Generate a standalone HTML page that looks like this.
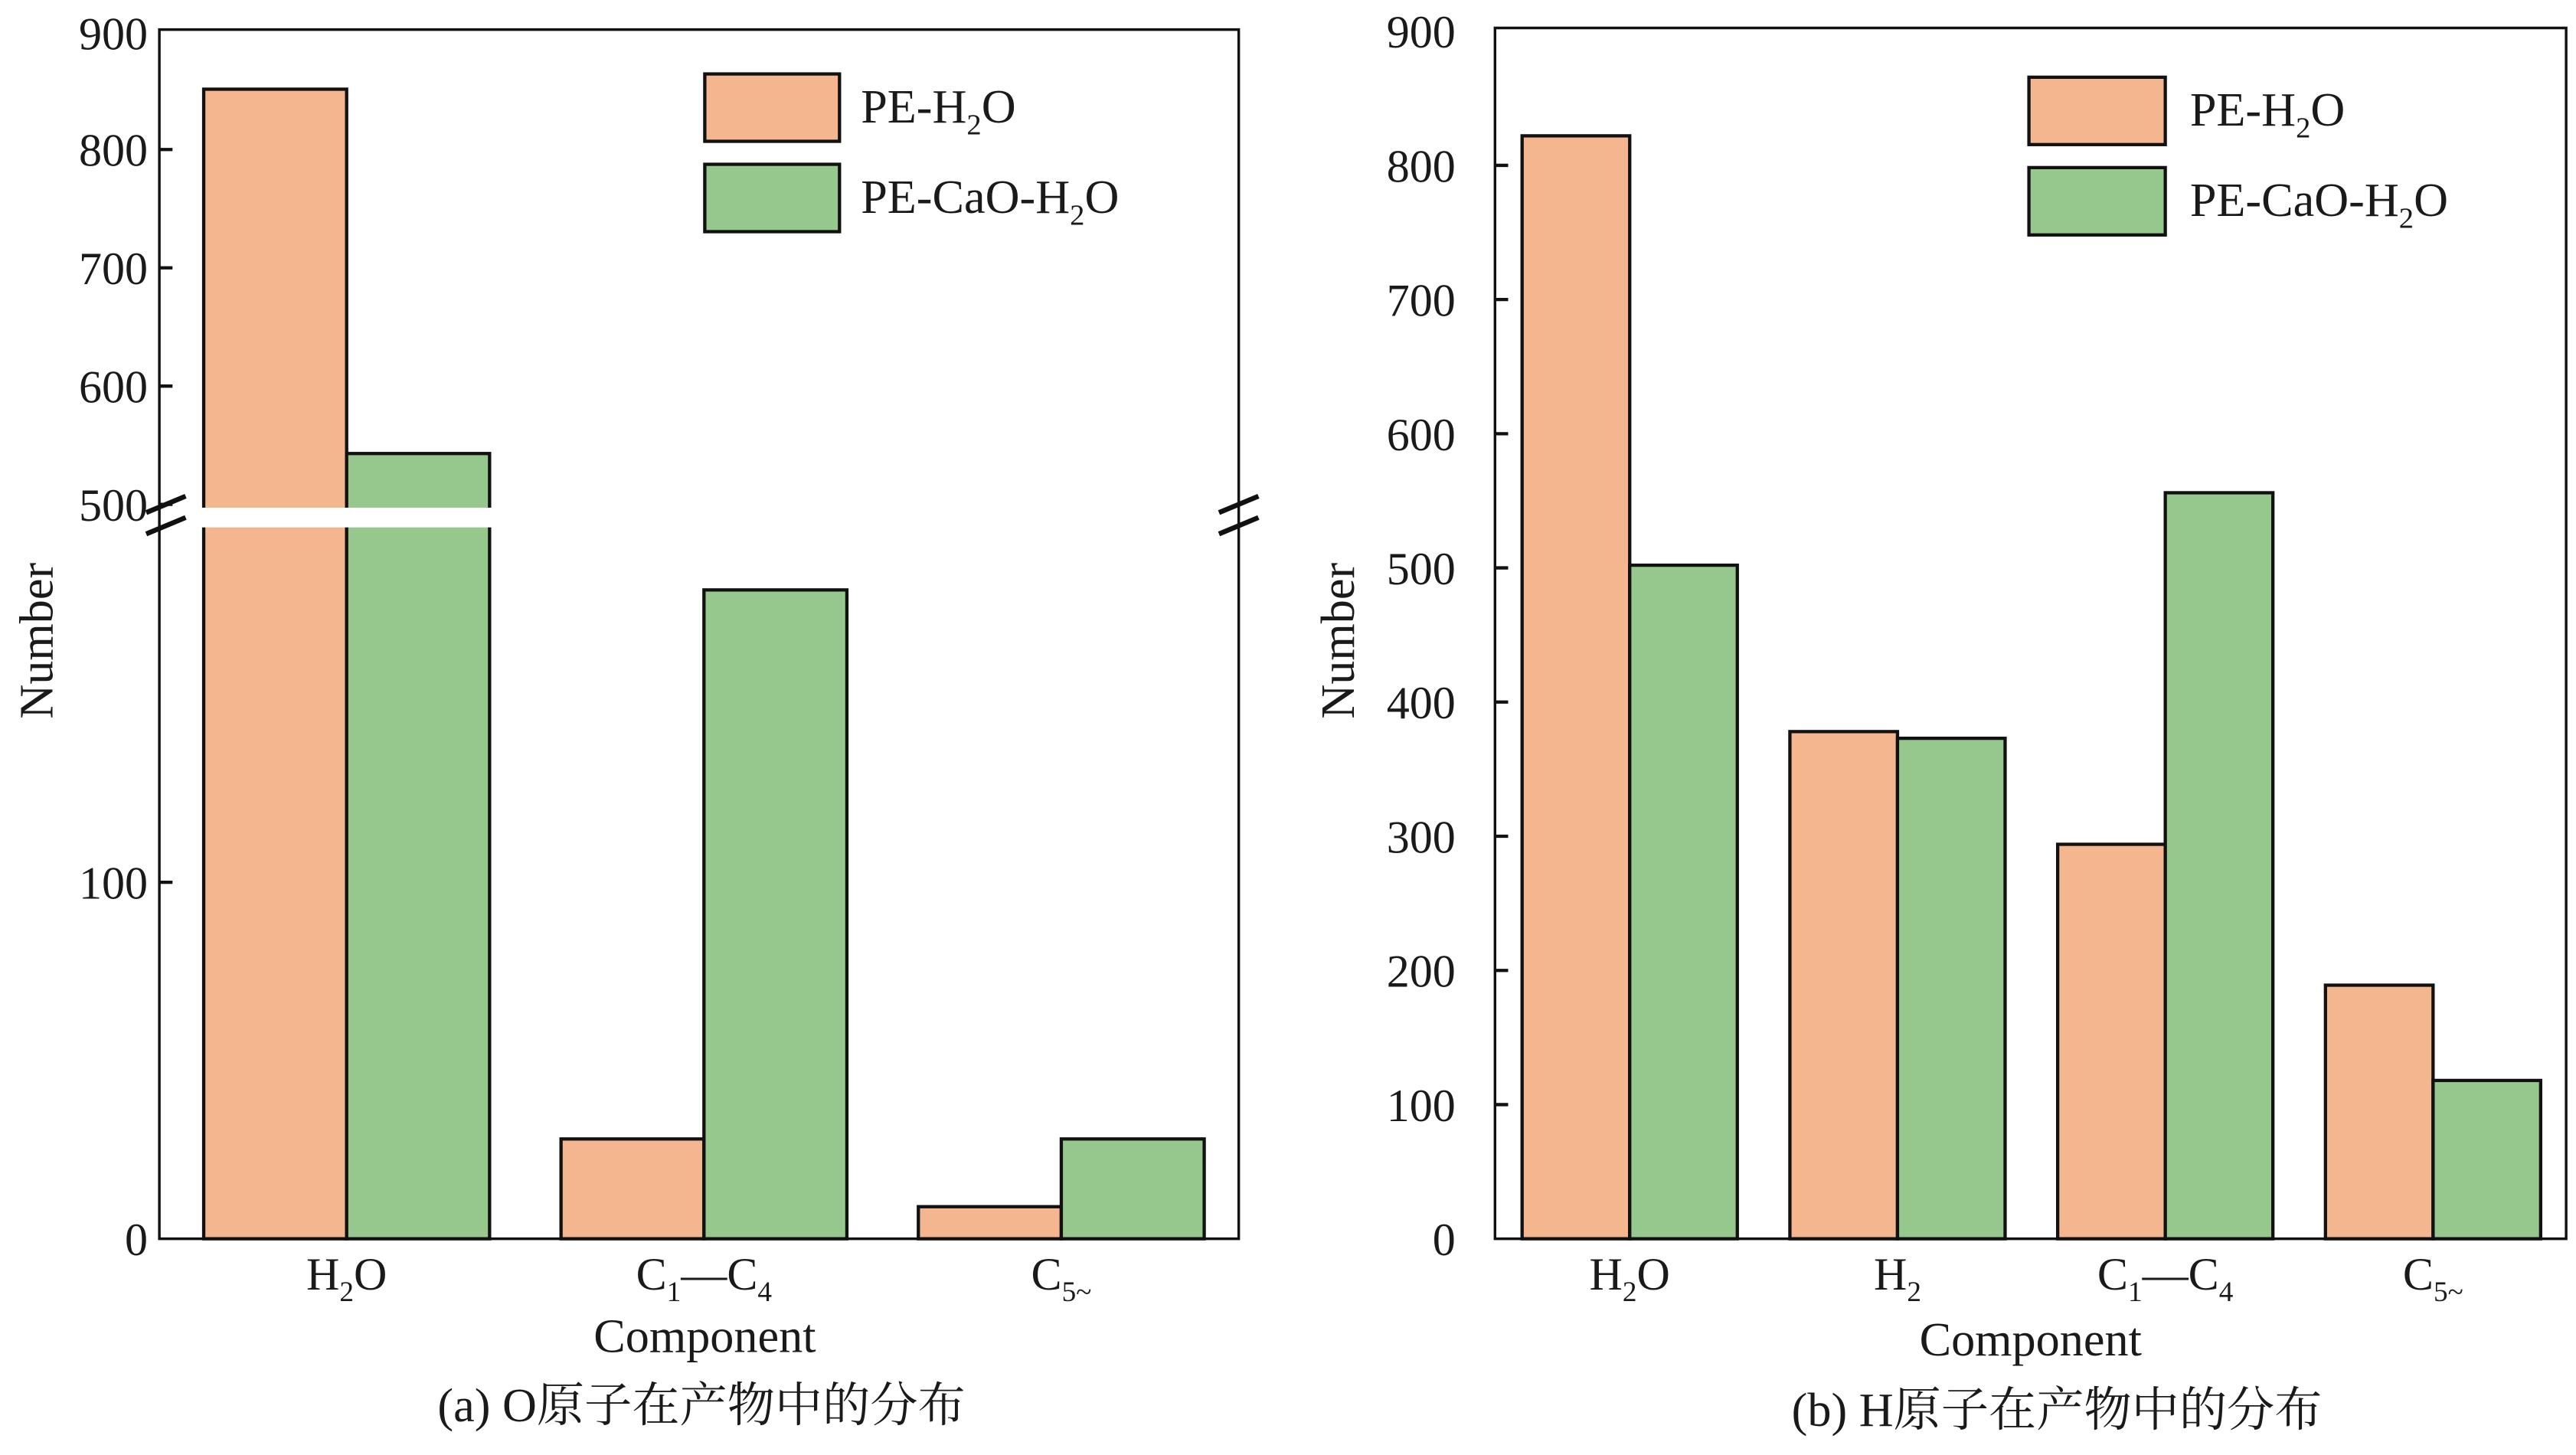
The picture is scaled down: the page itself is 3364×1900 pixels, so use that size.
<!DOCTYPE html>
<html><head><meta charset="utf-8"><style>
html,body{margin:0;padding:0;background:#fff;}
svg{display:block;}
text{font-family:"Liberation Serif","Noto Serif CJK SC",serif;fill:#1a1a1a;}
</style></head><body>
<svg id="fig" width="3364" height="1900" viewBox="0 0 1568 885.6" xmlns="http://www.w3.org/2000/svg">
<g id="left"></g>
<g id="right"></g>
</svg>
<script>
const leftCats = ["H2O", "C1-C4", "C5~"];
const leftPE = [851, 28, 9];
const leftCaO = [543, 182, 28];
const leftTicksUpper = [500, 600, 700, 800, 900];
const leftTicksLower = [0, 100];
const rightCats = ["H2O", "H2", "C1-C4", "C5~"];
const rightPE = [822, 378, 294, 189];
const rightCaO = [502, 373, 556, 118];
const rightTicks = [0, 100, 200, 300, 400, 500, 600, 700, 800, 900];

const NS = "http://www.w3.org/2000/svg";
const ORANGE = "#f4b68f", GREEN = "#96c78c";
const TICK = 28, LBL = 29;
function mk(parent, tag, attrs, text) {
  const e = document.createElementNS(NS, tag);
  for (const k in attrs) e.setAttribute(k, attrs[k]);
  if (text !== undefined) e.textContent = text;
  parent.appendChild(e);
  return e;
}
function sub(parent, x, y, parts, size, anchor) {
  const t = mk(parent, "text", {x: x, y: y, "font-size": size, "text-anchor": anchor || "middle"});
  parts.forEach(p => {
    mk(t, "tspan", p[1] ? {"font-size": size * 0.62, dy: size * 0.25} : (p[2] ? {dy: -size * 0.25} : {}), p[0]);
  });
  return t;
}
function catLabel(parent, cat, x, y) {
  let t;
  if (cat === "H2O") t = sub(parent, x, y, [["H"], ["2", 1], ["O", 0, 1]], 28);
  else if (cat === "H2") t = sub(parent, x, y, [["H"], ["2", 1]], 28);
  else if (cat === "C1-C4") t = sub(parent, x, y, [["C"], ["1", 1], ["\u2014C", 0, 1], ["4", 1]], 28);
  else t = sub(parent, x, y, [["C"], ["5~", 1]], 28);
  
  
}
function legend(g, x, y1, y2, w, h, tx) {
  const r1 = mk(g, "rect", {x: x, y: y1, width: w, height: h, fill: ORANGE, stroke: "#111", "stroke-width": 2});
  
  
  const t1 = sub(g, tx, y1 + h / 2 + 9, [["PE-H"], ["2", 1], ["O", 0, 1]], LBL, "start");
  
  
  const r2 = mk(g, "rect", {x: x, y: y2, width: w, height: h, fill: GREEN, stroke: "#111", "stroke-width": 2});
  
  
  const t2 = sub(g, tx, y2 + h / 2 + 9, [["PE-CaO-H"], ["2", 1], ["O", 0, 1]], LBL, "start");
  
  
}

/* ---------- Left chart (broken axis) ---------- */
(function () {
  const g = document.getElementById("left");
  const X0 = 97, X1 = 754, YB = 754, YT = 18;
  const yL = v => v >= 500 ? 307 - (v - 500) * 0.72 : YB - v * 2.17;
  const xC = i => 211 + i * 217.5;
  const bw = 87;
  leftCats.forEach((c, i) => {
    const a = mk(g, "rect", {x: xC(i) - bw, y: yL(leftPE[i]), width: bw, height: YB - yL(leftPE[i]), fill: ORANGE, stroke: "#111", "stroke-width": 2});
    
    
    const b = mk(g, "rect", {x: xC(i), y: yL(leftCaO[i]), width: bw, height: YB - yL(leftCaO[i]), fill: GREEN, stroke: "#111", "stroke-width": 2});
    
    
    catLabel(g, c, xC(i), 785);
  });
  const band = mk(g, "rect", {x: X0 + 2, y: 309, width: X1 - X0 - 4, height: 12, fill: "#fff"});
  
  
  const frame = mk(g, "path", {d: `M${X0},${YT}H${X1}V${YB}H${X0}Z`, fill: "none", stroke: "#111", "stroke-width": 1.6});
  
  
  leftTicksUpper.concat(leftTicksLower).forEach(v => {
    const y = v === 900 ? 20 : yL(v);
    if (v !== 900 && v !== 0) mk(g, "line", {x1: X0, x2: X0 + 8, y1: y, y2: y, stroke: "#111", "stroke-width": 2});
    const t = mk(g, "text", {x: 90, y: y + 10, "font-size": TICK, "text-anchor": "end"}, String(v));
    
    
  });
  [X0 + 4, X1].forEach(x => {
    [307, 320].forEach(y => {
      const l = mk(g, "line", {x1: x - 12, y1: y + 5, x2: x + 12, y2: y - 5, stroke: "#111", "stroke-width": 3});
      
      
    });
  });
  legend(g, 429, 45, 100, 82, 41, 524);
  const yt = mk(g, "text", {x: 0, y: 0, "font-size": LBL, "text-anchor": "middle", transform: "translate(32,390) rotate(-90)"}, "Number");
  
  
  const xt = mk(g, "text", {x: 429, y: 823, "font-size": LBL, "text-anchor": "middle"}, "Component");
  
  
  const cap = mk(g, "text", {x: 427, y: 865, "font-size": 29, "text-anchor": "middle"}, "(a) O原子在产物中的分布");
  
  
})();

/* ---------- Right chart ---------- */
(function () {
  const g = document.getElementById("right");
  const X0 = 910, X1 = 1562, YB = 754, YT = 17;
  const yR = v => YB - v * 0.8167;
  const xC = i => 992 + i * 163;
  const bw = 65.5;
  rightCats.forEach((c, i) => {
    const a = mk(g, "rect", {x: xC(i) - bw, y: yR(rightPE[i]), width: bw, height: YB - yR(rightPE[i]), fill: ORANGE, stroke: "#111", "stroke-width": 2});
    
    
    const b = mk(g, "rect", {x: xC(i), y: yR(rightCaO[i]), width: bw, height: YB - yR(rightCaO[i]), fill: GREEN, stroke: "#111", "stroke-width": 2});
    
    
    catLabel(g, c, xC(i), 785);
  });
  const frame = mk(g, "path", {d: `M${X0},${YT}H${X1}V${YB}H${X0}Z`, fill: "none", stroke: "#111", "stroke-width": 1.6});
  
  
  rightTicks.forEach(v => {
    const y = yR(v);
    if (v !== 0 && v !== 900) mk(g, "line", {x1: X0, x2: X0 + 8, y1: y, y2: y, stroke: "#111", "stroke-width": 2});
    const t = mk(g, "text", {x: 886, y: y + 10, "font-size": TICK, "text-anchor": "end"}, String(v));
    
    
  });
  legend(g, 1235, 47, 102, 83, 41, 1333);
  const yt = mk(g, "text", {x: 0, y: 0, "font-size": LBL, "text-anchor": "middle", transform: "translate(824,390) rotate(-90)"}, "Number");
  
  
  const xt = mk(g, "text", {x: 1236, y: 825, "font-size": LBL, "text-anchor": "middle"}, "Component");
  
  
  const cap = mk(g, "text", {x: 1252, y: 868, "font-size": 29, "text-anchor": "middle"}, "(b) H原子在产物中的分布");
  
  
})();
</script>
</body></html>
